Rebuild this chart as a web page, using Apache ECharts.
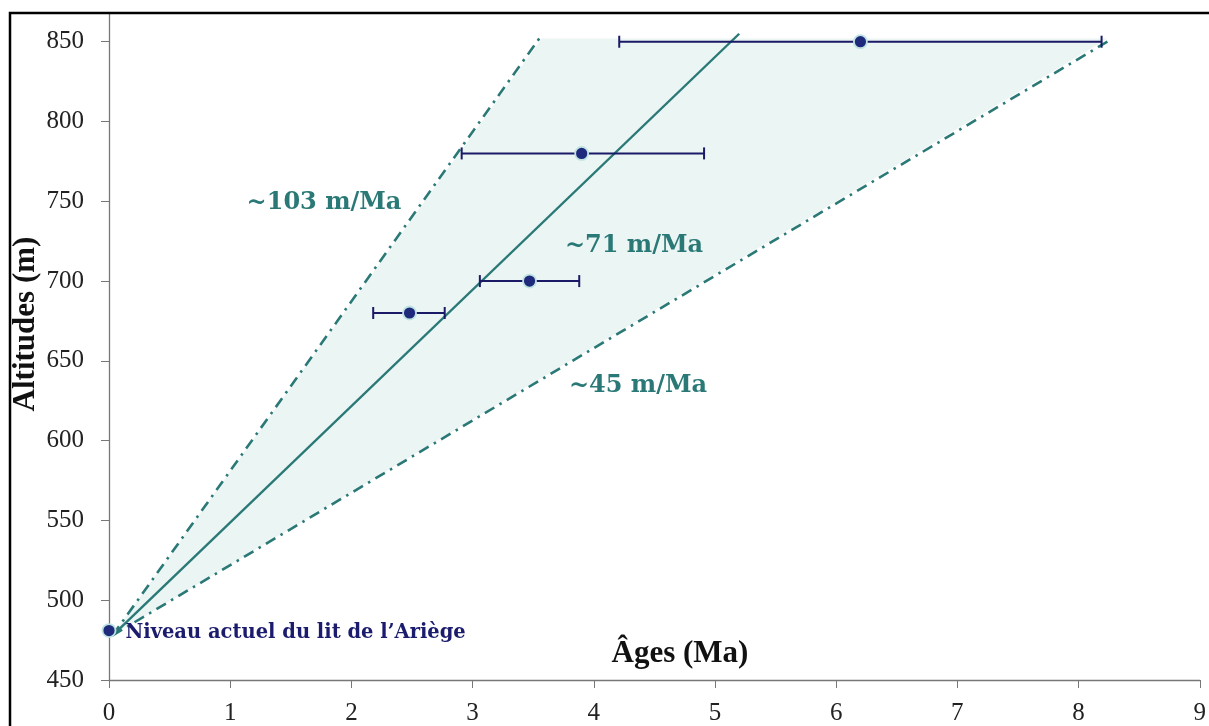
<!DOCTYPE html>
<html>
<head>
<meta charset="utf-8">
<script src="https://cdn.jsdelivr.net/npm/echarts@6/dist/echarts.min.js"></script>
<style>html,body{margin:0;padding:0;background:#fff}#c{width:1209px;height:726px}</style>
</head>
<body>
<div id="c"></div>
<script>
// ---- data ----
const ages        = [0, 2.48, 3.47, 3.90, 6.20];      // Ma
const altitudes   = [481, 680, 700, 780, 850];        // m
const ageErrLow   = [null, 2.18, 3.06, 2.91, 4.21];   // Ma
const ageErrHigh  = [null, 2.77, 3.88, 4.91, 8.19];   // Ma
const trendMean   = [[0.03, 478], [5.20, 855]];       // ~71 m/Ma
const trendFast   = [[0.03, 478], [3.55, 852]];       // ~103 m/Ma
const trendSlow   = [[0.03, 478], [8.28, 852]];       // ~45 m/Ma
const shadeVertices = [[0.03, 478], [3.57, 852], [8.24, 852]];
const xTicks = [0, 9, 1];      // min, max, interval
const yTicks = [450, 868, 50]; // min, max, interval
const baseLabel = 'Niveau actuel du lit de l\u2019Ariège';
const rateLabels = ['~103 m/Ma', '~71 m/Ma', '~45 m/Ma'];

const teal = '#2a7976';
const navy = '#1f2a7c';

const chart = echarts.init(document.getElementById('c'));

const pointData = ages.map((a, i) => {
  const d = { value: [a, altitudes[i]] };
  if (i === 0) {
    d.label = {
      show: true, position: 'right', distance: 9,
      formatter: baseLabel,
      fontFamily: 'DejaVu Serif', fontWeight: 'bold', fontSize: 19.5,
      color: '#1c1c6e', offset: [0, 2]
    };
  }
  return d;
});

const errData = [];
ages.forEach((a, i) => {
  if (ageErrLow[i] != null) errData.push([altitudes[i], ageErrLow[i], ageErrHigh[i]]);
});

const option = {
  animation: false,
  backgroundColor: '#fff',
  grid: { left: 109, right: 4, top: 13, bottom: 45, containLabel: false },
  xAxis: {
    type: 'value', min: xTicks[0], max: xTicks[1], interval: xTicks[2],
    axisLine: { show: true, onZero: false, lineStyle: { color: '#777', width: 1.3 } },
    axisTick: { show: true, length: 8, lineStyle: { color: '#777' } },
    splitLine: { show: false },
    axisLabel: { fontFamily: 'Liberation Serif', fontSize: 25, color: '#222', margin: 21 }
  },
  yAxis: {
    type: 'value', min: yTicks[0], max: yTicks[1], interval: yTicks[2],
    axisLine: { show: true, onZero: false, lineStyle: { color: '#777', width: 1.3 } },
    axisTick: { show: true, length: 8, inside: false, lineStyle: { color: '#777' } },
    splitLine: { show: false },
    axisLabel: { fontFamily: 'Liberation Serif', fontSize: 25, color: '#222', margin: 25, showMaxLabel: false }
  },
  graphic: [
    { type: 'rect', z: 100, silent: true,
      shape: { x: 10, y: 13, width: 1400, height: 900 },
      style: { fill: 'none', stroke: '#000', lineWidth: 2.5 } },
    { type: 'text', x: 680, y: 654, z: 50,
      style: { text: 'Âges (Ma)', font: 'bold 31px "Liberation Serif"', fill: '#111', align: 'center', verticalAlign: 'middle' } },
    { type: 'text', x: 26, y: 324, rotation: Math.PI / 2, z: 50,
      style: { text: 'Altitudes (m)', font: 'bold 31px "Liberation Serif"', fill: '#111', align: 'center', verticalAlign: 'middle' } },
    { type: 'text', x: 324, y: 203, z: 50,
      style: { text: rateLabels[0], font: 'bold 24px "DejaVu Serif"', fill: teal, align: 'center', verticalAlign: 'middle' } },
    { type: 'text', x: 634, y: 246, z: 50,
      style: { text: rateLabels[1], font: 'bold 24px "DejaVu Serif"', fill: teal, align: 'center', verticalAlign: 'middle' } },
    { type: 'text', x: 638, y: 386, z: 50,
      style: { text: rateLabels[2], font: 'bold 24px "DejaVu Serif"', fill: teal, align: 'center', verticalAlign: 'middle' } }
  ],
  series: [
    {
      type: 'custom', z: 1, silent: true,
      data: shadeVertices,
      renderItem: function (params, api) {
        if (params.dataIndex !== 0) return null;
        const pts = shadeVertices.map(p => api.coord(p));
        return { type: 'polygon', shape: { points: pts }, style: { fill: '#ebf5f4' } };
      }
    },
    {
      type: 'line', z: 3, data: trendFast, symbol: 'none',
      lineStyle: { color: teal, width: 2.6, type: [11, 6, 2.5, 6] }
    },
    {
      type: 'line', z: 3, data: trendSlow, symbol: 'none',
      lineStyle: { color: teal, width: 2.6, type: [11, 6, 2.5, 6] }
    },
    {
      type: 'line', z: 3, data: trendMean, symbol: 'none',
      lineStyle: { color: teal, width: 2.4, type: 'solid' }
    },
    {
      type: 'custom', z: 4, silent: true,
      data: errData,
      renderItem: function (params, api) {
        const y = api.value(0);
        const p1 = api.coord([api.value(1), y]);
        const p2 = api.coord([api.value(2), y]);
        const h = 6;
        const st = { stroke: '#1a1a66', lineWidth: 2 };
        return {
          type: 'group',
          children: [
            { type: 'line', shape: { x1: p1[0], y1: p1[1], x2: p2[0], y2: p2[1] }, style: st },
            { type: 'line', shape: { x1: p1[0], y1: p1[1] - h, x2: p1[0], y2: p1[1] + h }, style: st },
            { type: 'line', shape: { x1: p2[0], y1: p2[1] - h, x2: p2[0], y2: p2[1] + h }, style: st }
          ]
        };
      }
    },
    {
      type: 'scatter', z: 5, data: pointData, symbol: 'circle', symbolSize: 13,
      itemStyle: { color: navy, borderColor: '#bfe2e2', borderWidth: 1.8, opacity: 1 }
    }
  ]
};
chart.setOption(option);
</script>
</body>
</html>
